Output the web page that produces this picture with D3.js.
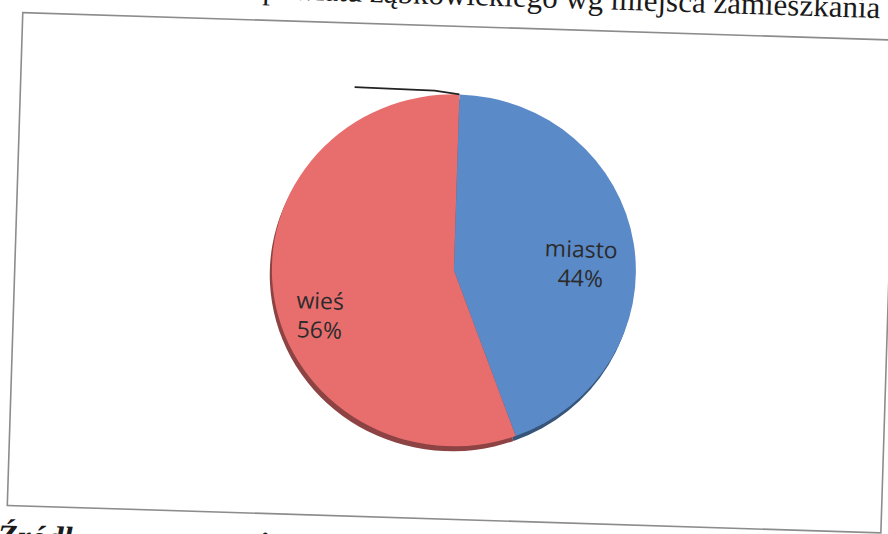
<!DOCTYPE html>
<html>
<head>
<meta charset="utf-8">
<script src="https://cdn.jsdelivr.net/npm/d3@7"></script>
<style>
  body { margin: 0; background: #fff; }
  svg { display: block; }
</style>
</head>
<body>
<div id="viz"></div>
<script>
// data
const categories = ["miasto", "wieś"];
const shares = [44, 56];
const colors = ["#5a8ac8", "#e86e6e"];
const title = "powiatu ząbkowickiego wg miejsca zamieszkania";
const source = "Źródło: opracowanie własne";

const w = 888, h = 534;
const svg = d3.select("#viz")
  .append("svg")
  .attr("width", w)
  .attr("height", h);

// the scanned page is slightly turned, so everything sits in one rotated group
const page = svg.append("g")
  .attr("transform", "rotate(1.8 444 267)");

// title, cut by the top edge of the scan
page.append("text")
  .attr("x", 872)
  .attr("y", 4.5)
  .attr("text-anchor", "end")
  .style("font-family", "Liberation Serif, serif")
  .style("font-size", "31px")
  .style("fill", "#1a1a1a")
  .text(title);

// chart frame
page.append("rect")
  .attr("x", 15).attr("y", 26)
  .attr("width", 874).attr("height", 493)
  .attr("fill", "none")
  .attr("stroke", "#8c8c8c")
  .attr("stroke-width", 1.6);

// pie
const cx = 454, cy = 270, r = 182, sy = 0.967;
const pie = d3.pie().sort(null).value(d => d);
const arcs = pie(shares);
const arc = d3.arc().innerRadius(0).outerRadius(r);
const labelArc = d3.arc().innerRadius(132).outerRadius(132);

// 3d rim: the same slices, a little lower and darker
const rim = page.append("g")
  .attr("transform", `translate(${cx - 2},${cy + 5}) scale(1,${sy})`);
rim.selectAll("path")
  .data(arcs)
  .enter()
  .append("path")
  .attr("d", arc)
  .style("fill", (d, i) => d3.color(colors[i]).darker(1.4));

const g = page.append("g")
  .attr("transform", `translate(${cx},${cy}) scale(1,${sy})`);
g.selectAll("path.slice")
  .data(arcs)
  .enter()
  .append("path")
  .attr("class", "slice")
  .attr("d", arc)
  .style("fill", (d, i) => colors[i]);

// labels (placed on a taller ellipse, like the tilted 3d pie does)
const lab = page.append("g")
  .attr("transform", `translate(${cx},${cy})`);
arcs.forEach((d, i) => {
  const c = labelArc.centroid(d);
  const y = c[1] * 1.21 + 13;
  const t = lab.append("text")
    .attr("text-anchor", "middle")
    .style("font-family", "Open Sans, sans-serif")
    .style("font-size", "23px")
    .style("fill", "#2b2b2b");
  t.append("tspan").attr("x", c[0] - 3).attr("y", y).text(categories[i]);
  t.append("tspan").attr("x", c[0] - 3).attr("y", y + 29).text(shares[i] + "%");
});

// stray leader line at the top of the pie
page.append("path")
  .attr("d", d3.line()([[cx - 105, cy - r * sy - 4], [cx - 25, cy - r * sy - 3], [cx, cy - r * sy]]))
  .attr("fill", "none")
  .attr("stroke", "#222")
  .attr("stroke-width", 1.8);

// source note, cut by the bottom edge
page.append("text")
  .attr("x", 6)
  .attr("y", 561)
  .style("font-family", "Liberation Serif, serif")
  .style("font-style", "italic")
  .style("font-weight", "bold")
  .style("font-size", "33px")
  .style("fill", "#1a1a1a")
  .text(source);
</script>
</body>
</html>
